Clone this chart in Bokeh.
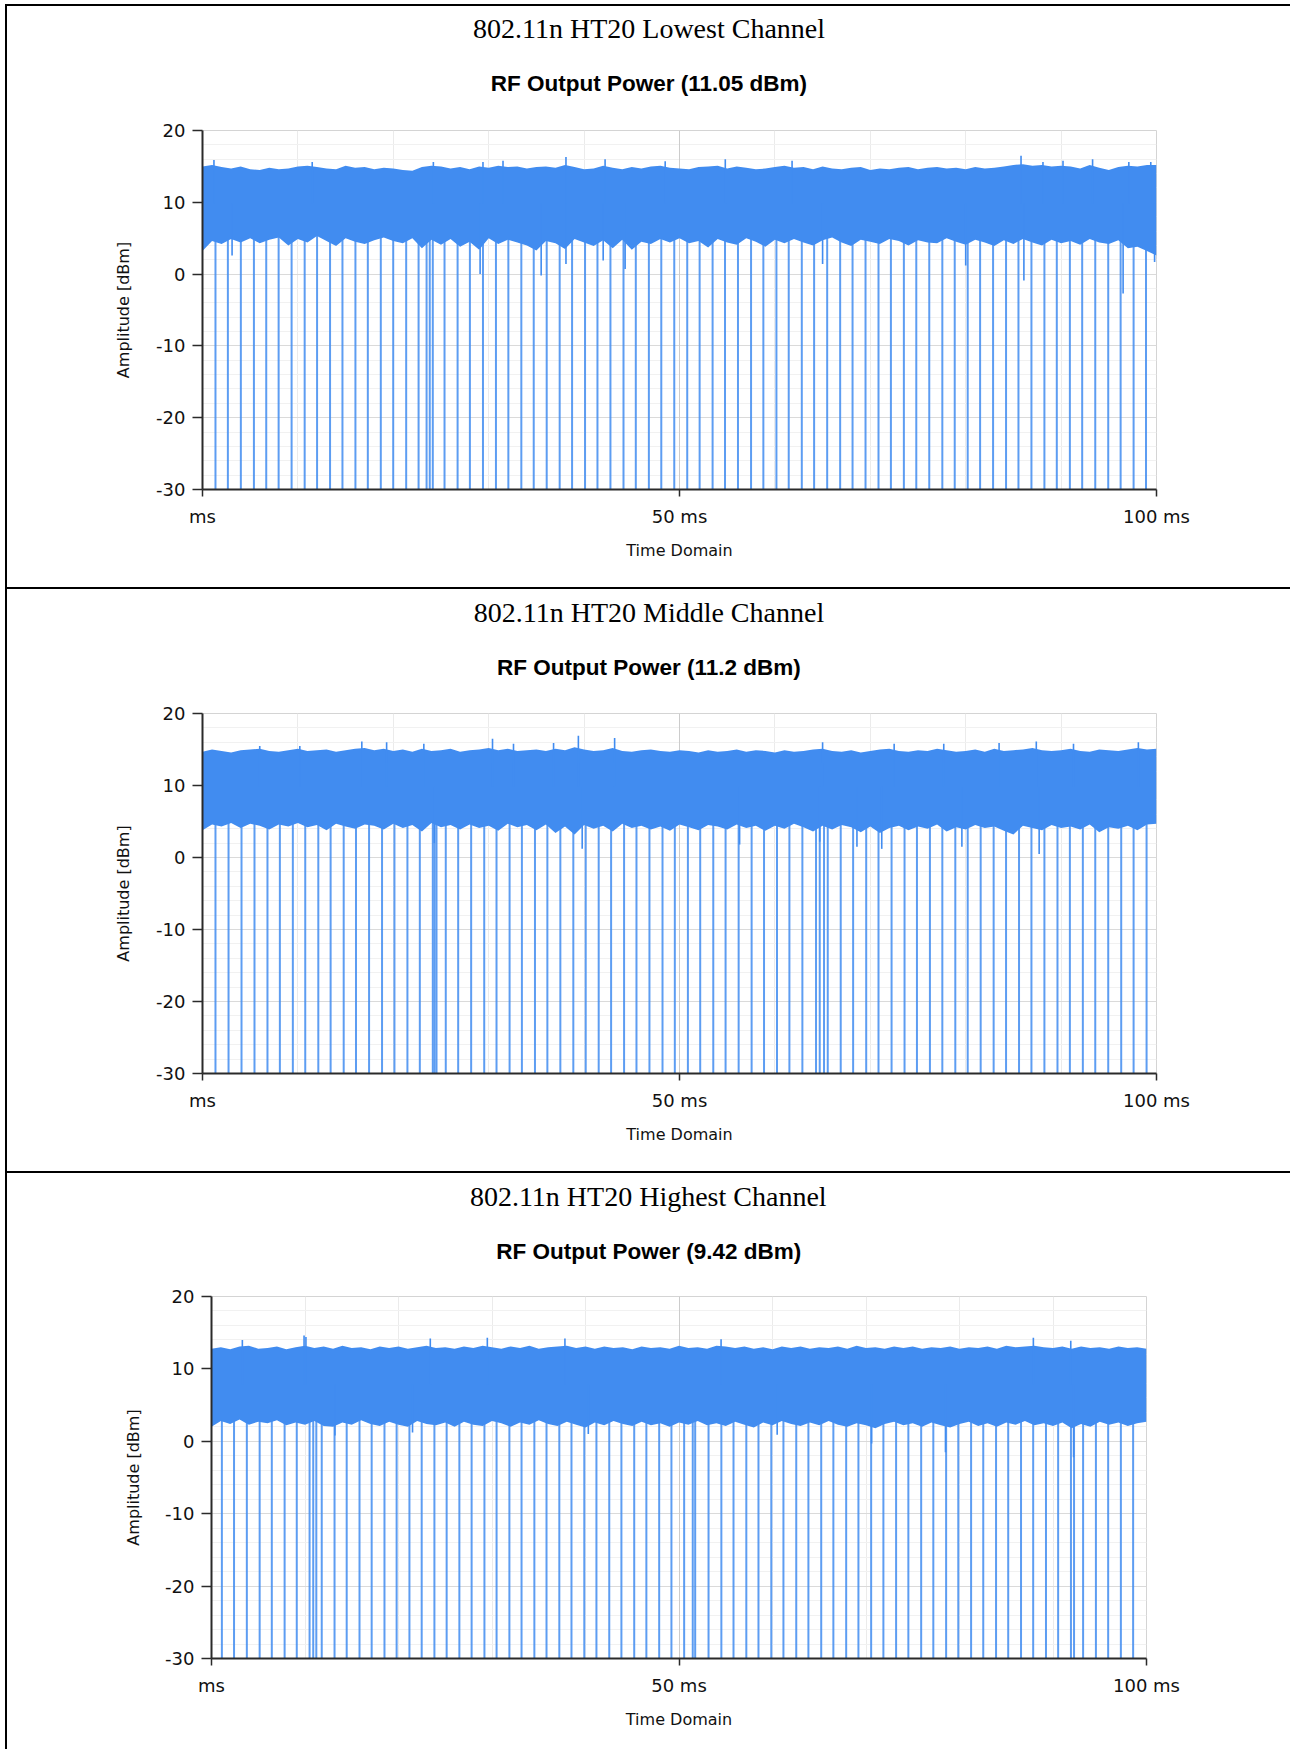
from bokeh.plotting import figure
from bokeh.models import Range1d, FixedTicker, Div, Grid, Title
from bokeh.layouts import column, row
from bokeh.embed import file_html
from bokeh.resources import INLINE

# ---------------- data ----------------
CELL_TITLES = ["802.11n HT20 Lowest Channel", "802.11n HT20 Middle Channel", "802.11n HT20 Highest Channel"]
CHART_TITLES = ["RF Output Power (11.05 dBm)", "RF Output Power (11.2 dBm)", "RF Output Power (9.42 dBm)"]

X_TICKS = [0, 50, 100]
X_TICK_LABELS = ["ms", "50 ms", "100 ms"]
X_GRID = [10, 20, 30, 40, 60, 70, 80, 90]
X_MAJOR_GRID = [50]
Y_TICKS = [-30, -20, -10, 0, 10, 20]
Y_TICK_LABELS = ["-30", "-20", "-10", "0", "10", "20"]
Y_MINOR = [-28, -26, -24, -22, -18, -16, -14, -12, -8, -6, -4, -2, 2, 4, 6, 8, 12, 14, 16, 18]

FLOOR_DBM = -30          # level reached during the gaps between bursts

# envelope sample times (ms)
T_MS = [0, 1, 2, 3, 4, 5, 6, 7, 8, 9, 10, 11, 12, 13, 14, 15, 16, 17, 18, 19, 20,
        21, 22, 23, 24, 25, 26, 27, 28, 29, 30, 31, 32, 33, 34, 35, 36, 37, 38, 39, 40,
        41, 42, 43, 44, 45, 46, 47, 48, 49, 50, 51, 52, 53, 54, 55, 56, 57, 58, 59, 60,
        61, 62, 63, 64, 65, 66, 67, 68, 69, 70, 71, 72, 73, 74, 75, 76, 77, 78, 79, 80,
        81, 82, 83, 84, 85, 86, 87, 88, 89, 90, 91, 92, 93, 94, 95, 96, 97, 98, 99, 100]

# ---- Lowest channel ----
TOP1 = [15.0, 15.2, 14.9, 14.7, 15.0, 14.6, 14.5, 14.8, 14.6, 14.7,
        15.0, 15.1, 14.9, 14.7, 14.6, 15.1, 14.8, 14.9, 14.6, 14.8,
        14.7, 14.5, 14.4, 14.9, 15.1, 15.0, 14.7, 14.9, 14.6, 15.0,
        14.8, 15.1, 14.9, 15.0, 14.7, 14.9, 15.0, 14.8, 15.2, 14.9,
        14.6, 14.7, 15.1, 14.8, 14.6, 14.9, 14.7, 15.0, 15.1, 14.8,
        14.7, 14.6, 14.9, 15.0, 15.1, 14.7, 15.0, 14.8, 14.6, 14.7,
        14.9, 15.1, 14.8, 14.9, 14.6, 15.0, 14.7, 14.6, 14.8, 14.9,
        14.5, 14.7, 14.6, 14.8, 14.9, 14.6, 14.8, 14.9, 14.7, 14.8,
        14.6, 14.9, 14.7, 14.8, 15.0, 15.2, 15.3, 15.1, 15.2, 15.0,
        15.1, 15.0, 14.7, 15.2, 14.8, 14.5, 14.9, 15.1, 15.0, 15.2,
        15.2]
LOW1 = [3.2, 4.6, 4.2, 4.9, 4.4, 5.0, 4.3, 4.8, 5.1, 4.0,
        4.9, 4.4, 5.3, 4.6, 3.9, 5.0, 4.5, 4.2, 4.7, 5.1,
        4.6, 4.3, 5.0, 3.6, 4.8, 4.1, 4.9, 3.8, 4.5, 3.4,
        5.0, 4.2, 4.8, 4.4, 4.0, 3.3, 4.6, 4.3, 3.5, 4.9,
        4.4, 3.9, 4.7, 3.6, 4.8, 3.4, 4.5, 4.2, 4.9, 4.4,
        5.0, 4.3, 4.6, 3.7, 4.9, 4.4, 4.1, 5.0, 4.5, 3.8,
        4.8, 4.3, 4.9, 4.4, 4.0, 4.7, 5.1, 4.4, 3.9, 4.8,
        4.5, 4.2, 4.9, 4.6, 4.0, 4.7, 4.4, 4.3, 5.0, 4.5,
        4.1, 4.8, 4.4, 3.9, 4.7, 4.2, 4.9, 4.4, 4.0, 4.8,
        4.3, 4.6, 4.1, 4.9, 4.4, 4.2, 4.7, 3.6, 3.8, 3.2,
        2.6]
UP1_T = [1.2, 11.5, 24.2, 29.4, 31.5, 38.1, 42.2, 48.5, 54.8, 61.8, 85.8, 88.1, 90.2, 93.3, 97.1, 99.4]
UP1_V = [15.9, 15.6, 15.6, 15.6, 15.8, 16.3, 16.0, 15.7, 16.0, 15.8, 16.5, 15.6, 15.8, 16.0, 15.6, 15.6]
DN1_T = [3.1, 29.1, 35.5, 38.1, 42.0, 44.3, 65.0, 80.0, 86.1, 96.5, 99.8]
DN1_V = [2.6, 0.0, -0.2, 1.4, 1.9, 0.7, 1.4, 1.2, -0.9, -2.7, 1.7]
GAPS1 = [1.36, 2.66, 4.02, 5.39, 6.68, 7.98, 9.34, 10.71, 12.01, 13.37, 14.67, 16.03,
         17.33, 18.69, 19.99, 21.35, 22.65, 23.49, 23.82, 24.14, 25.37, 26.74, 28.03,
         29.40, 30.76, 32.06, 33.42, 34.72, 36.08, 37.44, 38.74, 40.10, 41.40, 42.76,
         44.13, 45.42, 46.79, 48.09, 49.45, 50.81, 52.11, 53.47, 54.77, 56.13, 57.50,
         58.79, 60.16, 61.45, 62.82, 64.11, 65.48, 66.84, 68.14, 69.50, 70.86, 72.16,
         73.52, 74.82, 76.18, 77.55, 78.85, 80.21, 81.51, 82.87, 84.23, 85.53, 86.89,
         88.25, 89.55, 90.92, 92.21, 93.58, 94.94, 96.24, 97.60, 98.90]

# ---- Middle channel ----
TOP2 = [14.7, 15.0, 14.8, 14.6, 14.9, 15.0, 15.1, 14.8, 14.7, 14.9,
        15.1, 14.8, 14.9, 15.0, 14.7, 14.9, 15.1, 15.2, 14.9, 15.1,
        14.8, 15.0, 14.7, 15.1, 14.8, 14.9, 15.1, 14.7, 14.9, 15.0,
        15.2, 14.9, 15.1, 14.8, 14.9, 15.0, 14.8, 15.1, 14.9, 15.3,
        15.0, 14.8, 14.9, 15.2, 14.8, 14.7, 14.9, 15.0, 14.8, 14.7,
        14.9, 14.8, 14.6, 14.9, 14.7, 14.8, 15.0, 14.7, 14.9, 14.8,
        14.6, 14.9, 14.7, 14.8, 15.0, 15.1, 14.8, 14.7, 14.9, 14.6,
        14.8, 15.0, 15.1, 14.8, 14.7, 14.9, 14.8, 15.1, 14.9, 14.7,
        14.8, 15.0, 14.7, 15.1, 14.8, 14.9, 15.0, 15.2, 14.9, 14.8,
        14.9, 15.1, 14.8, 14.7, 15.0, 14.9, 14.8, 15.0, 15.2, 15.0,
        15.1]
LOW2 = [3.8, 4.6, 4.3, 4.8, 4.1, 4.7, 4.4, 3.9, 4.6, 4.3,
        4.8, 4.2, 4.5, 3.8, 4.7, 4.3, 4.0, 4.6, 4.4, 3.9,
        4.7, 4.1, 4.5, 3.6, 4.8, 4.2, 4.5, 3.9, 4.6, 4.1,
        4.4, 3.7, 4.7, 4.2, 4.5, 3.8, 4.6, 3.4, 4.3, 3.2,
        4.5, 4.0, 4.4, 3.6, 4.7, 4.1, 4.4, 3.9, 4.3, 3.7,
        4.6, 4.2, 3.8, 4.5, 4.3, 3.9, 4.6, 4.1, 4.4, 3.7,
        4.4, 4.0, 4.7, 4.2, 3.6, 4.4, 3.9, 4.5, 4.2, 3.5,
        4.3, 3.4, 4.1, 4.4, 3.8, 4.3, 4.0, 4.6, 3.6, 4.2,
        3.9, 4.5, 4.1, 4.3, 3.7, 3.2, 4.4, 4.1, 3.8, 4.5,
        4.1, 4.3, 3.9, 4.6, 3.5, 4.2, 4.0, 4.4, 3.8, 4.6,
        4.7]
UP2_T = [6.0, 10.2, 16.7, 19.3, 23.2, 30.4, 32.6, 36.8, 39.4, 43.2, 65.0, 72.5, 77.7, 83.5, 87.4, 91.3, 98.1]
UP2_V = [15.5, 15.5, 16.1, 16.0, 15.8, 16.5, 15.8, 15.9, 16.9, 16.6, 16.0, 15.8, 15.8, 15.9, 16.1, 15.8, 16.0]
DN2_T = [24.3, 39.8, 56.3, 64.7, 68.6, 71.2, 79.6, 87.7]
DN2_V = [2.0, 1.2, 1.8, 2.2, 1.5, 1.2, 1.5, 0.5]
GAPS2 = [1.36, 2.73, 4.09, 5.45, 6.81, 8.11, 9.47, 10.77, 12.14, 13.43, 14.80, 16.09,
         17.46, 18.82, 20.12, 21.48, 22.78, 24.14, 24.33, 24.53, 25.50, 26.80, 28.16,
         29.53, 30.82, 32.19, 33.48, 34.85, 36.15, 37.51, 38.87, 40.17, 41.53, 42.83,
         44.19, 45.49, 46.85, 48.22, 49.51, 50.88, 52.17, 53.54, 54.83, 56.20, 57.56,
         58.86, 60.22, 61.52, 62.88, 64.31, 64.70, 65.15, 65.54, 66.90, 68.20, 69.57,
         70.86, 72.23, 73.59, 74.89, 76.25, 77.55, 78.91, 80.21, 81.57, 82.93, 84.23,
         85.59, 86.89, 88.25, 89.62, 90.92, 92.28, 93.58, 94.94, 96.30, 97.60, 98.96]

# ---- Highest channel ----
TOP3 = [12.8, 13.0, 12.7, 13.1, 13.2, 12.8, 12.9, 13.1, 12.7, 13.0,
        13.2, 12.9, 13.1, 12.8, 13.2, 12.9, 13.0, 12.7, 13.1, 12.9,
        13.1, 12.8, 13.0, 13.2, 12.9, 13.0, 12.8, 13.1, 12.9, 13.2,
        13.0, 12.8, 13.1, 12.9, 13.2, 12.8, 13.0, 13.1, 13.2, 12.9,
        13.1, 12.8, 13.1, 12.9, 13.0, 12.7, 13.1, 12.9, 13.0, 12.8,
        13.2, 12.9, 13.0, 12.8, 13.2, 13.1, 12.9, 13.1, 12.8, 13.0,
        12.7, 13.1, 12.9, 13.1, 12.8, 13.0, 12.9, 13.1, 12.8, 13.2,
        12.9, 13.0, 12.8, 13.1, 12.9, 13.1, 12.8, 13.0, 12.9, 13.1,
        12.8, 13.0, 12.9, 13.1, 12.8, 13.2, 13.0, 13.1, 13.2, 13.0,
        12.9, 13.1, 12.8, 13.1, 12.9, 13.0, 12.8, 13.1, 12.9, 13.0,
        12.8]
LOW3 = [2.0, 2.8, 2.4, 3.0, 2.3, 2.7, 2.5, 2.9, 2.2, 2.6,
        2.3, 2.8, 2.1, 2.0, 2.6, 2.3, 2.9, 2.4, 2.1, 2.7,
        2.3, 2.0, 2.8, 2.4, 2.2, 2.6, 2.0, 2.7, 2.3, 2.1,
        2.8, 2.5, 2.0, 2.6, 2.3, 2.9, 2.4, 2.1, 2.7, 2.3,
        1.9, 2.6, 2.2, 2.8, 2.4, 2.1, 2.7, 2.2, 2.5, 2.0,
        2.6, 2.3, 2.8, 2.2, 2.5, 2.1, 2.7, 2.3, 1.9, 2.6,
        2.2, 2.8, 2.4, 2.1, 2.6, 2.2, 2.8, 2.3, 2.0, 2.5,
        2.2, 1.8, 2.4, 2.7, 2.2, 2.5, 2.0, 2.6, 2.2, 1.9,
        2.4, 2.7, 2.1, 2.5, 2.0, 2.6, 2.3, 2.8, 2.2, 2.5,
        2.1, 2.6, 1.8, 2.4, 2.0, 2.7, 2.3, 2.6, 2.1, 2.5,
        2.7]
UP3_T = [3.3, 9.9, 10.1, 23.4, 29.5, 37.8, 54.5, 87.9, 91.9]
UP3_V = [14.0, 14.6, 14.4, 14.2, 14.3, 14.2, 14.1, 14.3, 13.9]
DN3_T = [13.2, 21.5, 40.3, 60.5, 70.6, 78.5, 92.2]
DN3_V = [0.8, 1.2, 1.0, 0.9, -0.3, -1.5, -2.2]
GAPS3 = [1.11, 2.41, 3.78, 5.15, 6.45, 7.82, 9.12, 10.49, 10.88, 11.21, 11.79, 13.16,
         14.46, 15.83, 17.13, 18.50, 19.80, 21.17, 22.48, 23.84, 25.15, 26.51, 27.82,
         29.19, 30.49, 31.86, 33.16, 34.53, 35.83, 37.20, 38.50, 39.87, 41.17, 42.54,
         43.84, 45.21, 46.51, 47.88, 49.19, 50.55, 51.47, 51.73, 53.16, 54.53, 55.83,
         57.20, 58.50, 59.87, 61.17, 62.54, 63.84, 65.21, 66.51, 67.88, 69.19, 70.55,
         71.86, 73.22, 74.53, 75.90, 77.20, 78.57, 79.87, 81.24, 82.54, 83.91, 85.21,
         86.58, 87.88, 89.25, 90.55, 91.92, 92.25, 93.22, 94.59, 95.90, 97.26, 98.57]

BAND_MID = [9.8, 9.8, 7.8]   # centre level of each burst band (dBm)

# ---------------- styling / layout ----------------
BLUE = "#418CF0"
CHART_TITLE_PX = 22.5
CELL_TITLE_PX = 28
CHART_TITLE_H = 25.1   # rendered text-box height of the chart title
CELL_TITLE_H = 31.0    # rendered text-box height of the cell title


def make_chart(idx, top, low, up_t, up_v, dn_t, dn_v, gaps, width, height, mb_left, mb_top,
               mb_bottom, frame_w, cell_off, chart_off, cell_dy, chart_dy, ylabel_standoff):
    p = figure(width=width, height=height, x_range=Range1d(0, 100), y_range=Range1d(-30, 20),
               output_backend="svg", toolbar_location=None, title=None,
               min_border_left=mb_left, min_border_right=width - mb_left - frame_w,
               min_border_top=mb_top, min_border_bottom=mb_bottom,
               background_fill_color="white", border_fill_color="white",
               outline_line_color="#D4D4D4", outline_line_width=1)
    p.margin = 0

    # grids
    p.xgrid.ticker = FixedTicker(ticks=X_GRID)
    p.xgrid.grid_line_color = "#EBEBEB"
    p.add_layout(Grid(dimension=0, ticker=FixedTicker(ticks=X_MAJOR_GRID),
                      grid_line_color="#CCCCCC", grid_line_width=1))
    p.ygrid.ticker = FixedTicker(ticks=Y_TICKS, minor_ticks=Y_MINOR)
    p.ygrid.grid_line_color = "#DADADA"
    p.ygrid.minor_grid_line_color = "#F1F1F1"

    # axes
    p.xaxis.ticker = FixedTicker(ticks=X_TICKS)
    p.xaxis.major_label_overrides = dict(zip(X_TICKS, X_TICK_LABELS))
    p.yaxis.ticker = FixedTicker(ticks=Y_TICKS, minor_ticks=Y_MINOR)
    p.yaxis.major_label_overrides = dict(zip(Y_TICKS, Y_TICK_LABELS))
    for ax in (p.xaxis[0], p.yaxis[0]):
        ax.axis_line_color = "#2A2A2A"
        ax.axis_line_width = 2
        ax.major_tick_line_color = "#2A2A2A"
        ax.major_tick_line_width = 1.5
        ax.major_tick_in = 0
        ax.minor_tick_in = 0
        ax.minor_tick_out = 0
        ax.major_label_text_font = "DejaVu Sans"
        ax.major_label_text_font_size = "18px"
        ax.major_label_text_color = "#111111"
        ax.axis_label_text_font = "DejaVu Sans"
        ax.axis_label_text_font_size = "16px"
        ax.axis_label_text_font_style = "normal"
        ax.axis_label_text_color = "#111111"
    p.xaxis.major_tick_out = 7
    p.xaxis.major_label_standoff = 9
    p.xaxis.axis_label = "Time Domain"
    p.xaxis.axis_label_standoff = 11
    p.yaxis.major_tick_out = 10
    p.yaxis.major_label_standoff = 7
    p.yaxis.axis_label = "Amplitude [dBm]"
    p.yaxis.axis_label_standoff = ylabel_standoff

    mid = BAND_MID[idx]
    # gaps between bursts: trace drops to the floor
    p.segment(x0=gaps, y0=[FLOOR_DBM] * len(gaps), x1=gaps, y1=[mid] * len(gaps),
              line_color=BLUE, line_width=2.0, line_alpha=0.85)
    # burst envelope
    p.varea(x=T_MS, y1=low, y2=top, fill_color=BLUE)
    # peaks and dips of the trace
    p.segment(x0=up_t, y0=[mid] * len(up_t), x1=up_t, y1=up_v, line_color=BLUE, line_width=1.6)
    p.segment(x0=dn_t, y0=[mid] * len(dn_t), x1=dn_t, y1=dn_v, line_color=BLUE, line_width=1.6)

    # titles, stacked upward from the plot frame
    s1 = 2 * (chart_dy - CHART_TITLE_H / 2)
    s2 = 2 * (cell_dy - CELL_TITLE_H / 2 - 2 - CHART_TITLE_H - s1)
    p.add_layout(Title(text=CHART_TITLES[idx], align="left", offset=chart_off, standoff=s1,
                       vertical_align="bottom", text_font="Liberation Sans",
                       text_font_size=f"{CHART_TITLE_PX}px", text_font_style="bold",
                       text_color="#000000"), "above")
    p.add_layout(Title(text=CELL_TITLES[idx], align="left", offset=cell_off, standoff=s2,
                       vertical_align="bottom", text_font="Liberation Serif",
                       text_font_size=f"{CELL_TITLE_PX}px", text_font_style="normal",
                       text_color="#000000"), "above")
    return p


W = 1283
p1 = make_chart(0, TOP1, LOW1, UP1_T, UP1_V, DN1_T, DN1_V, GAPS1, W, 581, 195, 124, 98, 954,
                270.5, 288.2, 102, 47, 20)
p2 = make_chart(1, TOP2, LOW2, UP2_T, UP2_V, DN2_T, DN2_V, GAPS2, W, 582, 195, 124, 98, 954,
                271.2, 294.5, 101, 46, 20)
p3 = make_chart(2, TOP3, LOW3, UP3_T, UP3_V, DN3_T, DN3_V, GAPS3, W - 9, 576, 195, 123, 91, 935,
                258.4, 284.8, 100, 45, 19)


def hline():
    return Div(text="", width=W, height=2, margin=0, styles={"background-color": "#000000"})


left_bar = Div(text="", width=2, height=1745, margin=0, styles={"background-color": "#000000"})
cells = column(hline(), p1, hline(), p2, hline(),
               row(Div(text="", width=9, height=2, margin=0), p3, spacing=0, margin=0),
               spacing=0, margin=0)
body = row(Div(text="", width=5, height=2, margin=0), left_bar, cells, spacing=0, margin=0)
layout = column(Div(text="", width=5, height=4, margin=0), body, spacing=0, margin=0)

open("out.html", "w").write(file_html(layout, INLINE))
